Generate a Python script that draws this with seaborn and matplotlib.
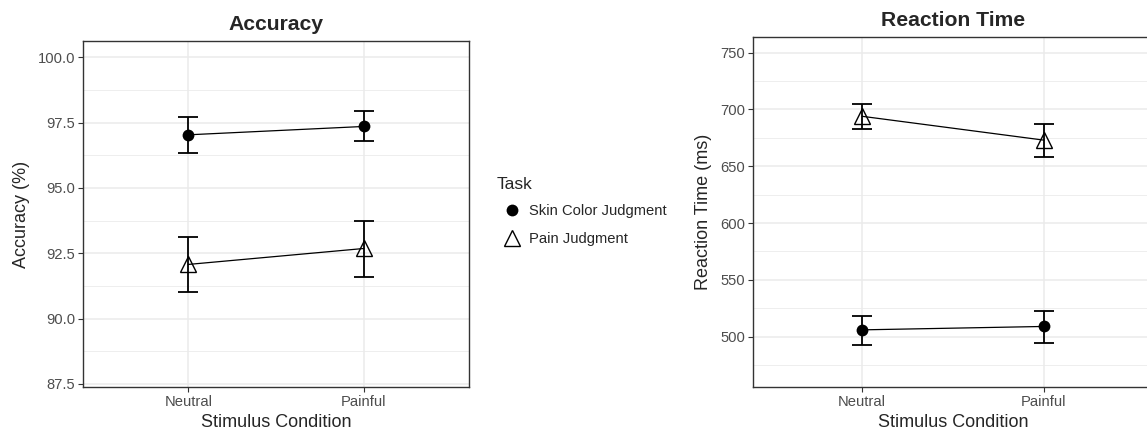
import numpy as np
import pandas as pd
import matplotlib
matplotlib.use("Agg")
import matplotlib.pyplot as plt
from matplotlib.lines import Line2D
import seaborn as sns

conditions = ["Neutral", "Painful"]
tasks = ["Skin Color Judgment", "Pain Judgment"]

acc_skin = [97.03, 97.35]
acc_skin_lo = [96.33, 96.78]
acc_skin_hi = [97.70, 97.93]
acc_pain = [92.07, 92.68]
acc_pain_lo = [91.00, 91.60]
acc_pain_hi = [93.13, 93.75]

rt_skin = [506, 509]
rt_skin_lo = [493, 494]
rt_skin_hi = [518, 523]
rt_pain = [694, 673]
rt_pain_lo = [683, 658]
rt_pain_hi = [705, 687]

acc_ticks = [87.5, 90.0, 92.5, 95.0, 97.5, 100.0]
rt_ticks = [500, 550, 600, 650, 700, 750]


def build(skin, skin_lo, skin_hi, pain, pain_lo, pain_hi):
    rows = []
    for i, c in enumerate(conditions):
        rows.append(dict(Condition=c, Task=tasks[0], mean=skin[i], lo=skin_lo[i], hi=skin_hi[i]))
    for i, c in enumerate(conditions):
        rows.append(dict(Condition=c, Task=tasks[1], mean=pain[i], lo=pain_lo[i], hi=pain_hi[i]))
    return pd.DataFrame(rows)


acc_df = build(acc_skin, acc_skin_lo, acc_skin_hi, acc_pain, acc_pain_lo, acc_pain_hi)
rt_df = build(rt_skin, rt_skin_lo, rt_skin_hi, rt_pain, rt_pain_lo, rt_pain_hi)

sns.set_theme(style="white")
plt.rcParams["font.family"] = ["Liberation Sans", "DejaVu Sans"]

W, H = 1147, 436
fig = plt.figure(figsize=(W / 100, H / 100), dpi=100)
ax1 = fig.add_axes([83 / W, (H - 387) / H, 386 / W, 346 / H])
ax2 = fig.add_axes([753 / W, (H - 387) / H, 400 / W, 350 / H])

GRID = "#EBEBEB"
TXT = "#4D4D4D"
EDGE = "#333333"
TRI_SIZE = 12


def draw(ax, df, ylim, ticks, title, ylabel):
    ax.set_axisbelow(True)
    for t in tasks:
        sub = df[df.Task == t]
        xs = np.array([conditions.index(c) for c in sub.Condition])
        ax.errorbar(xs, sub["mean"], yerr=[sub["mean"] - sub["lo"], sub["hi"] - sub["mean"]],
                    fmt="none", ecolor="black", elinewidth=1.3, capsize=7, capthick=1.3, zorder=3)
    sns.pointplot(data=df, x="Condition", y="mean", hue="Task", order=conditions,
                  hue_order=tasks, markers=["o", "^"], linestyles=["-", "-"],
                  palette=["black", "black"], errorbar=None, ax=ax,
                  markersize=8, linewidth=0.9, legend=False, zorder=4)
    for ln in ax.lines:
        if ln.get_marker() == "^":
            ln.set_markerfacecolor("none")
            ln.set_markeredgecolor("black")
            ln.set_markersize(TRI_SIZE)
            ln.set_markeredgewidth(1.0)
        elif ln.get_marker() == "o":
            ln.set_markersize(8.5)
            ln.set_markeredgewidth(0)
    ax.set_yticks(ticks)
    step = ticks[1] - ticks[0]
    minor = [v - step / 2 for v in ticks] + [ticks[-1] + step / 2]
    ax.set_yticks(minor, minor=True)
    ax.set_xlim(-0.6, 1.6)
    ax.set_ylim(*ylim)
    ax.grid(True, which="major", color=GRID, linewidth=1.1)
    ax.grid(True, which="minor", axis="y", color=GRID, linewidth=0.6)
    ax.tick_params(axis="both", which="major", direction="out", length=3.5, width=0.8,
                   color=EDGE, labelcolor=TXT, labelsize=10.6, pad=2, left=True, bottom=True)
    ax.tick_params(axis="y", which="minor", length=0)
    for s in ax.spines.values():
        s.set_color(EDGE)
        s.set_linewidth(1.0)
    ax.set_title(title, fontsize=15.2, fontweight="bold", pad=8)
    ax.set_xlabel("Stimulus Condition", fontsize=13, labelpad=4)
    ax.set_ylabel(ylabel, fontsize=13, labelpad=6)


draw(ax1, acc_df, (87.38, 100.62), acc_ticks, "Accuracy", "Accuracy (%)")
ax1.yaxis.set_major_formatter(matplotlib.ticker.FormatStrFormatter("%.1f"))
draw(ax2, rt_df, (455.7, 763.8), rt_ticks, "Reaction Time", "Reaction Time (ms)")

handles = [
    Line2D([], [], marker="o", linestyle="none", color="black", markersize=8.5, markeredgewidth=0),
    Line2D([], [], marker="^", linestyle="none", markerfacecolor="none", markeredgecolor="black",
           markersize=TRI_SIZE, markeredgewidth=1.0),
]
leg = fig.legend(handles, tasks, title="Task", loc="upper left",
                 bbox_to_anchor=(497 / W, 1 - 177 / H), frameon=False,
                 fontsize=10.6, title_fontsize=12.6, handlelength=2.0, handletextpad=0.2,
                 labelspacing=0.9, borderaxespad=0, borderpad=0)
leg._legend_box.align = "left"
leg._legend_box.sep = 9

fig.savefig("out.png", dpi=100)
